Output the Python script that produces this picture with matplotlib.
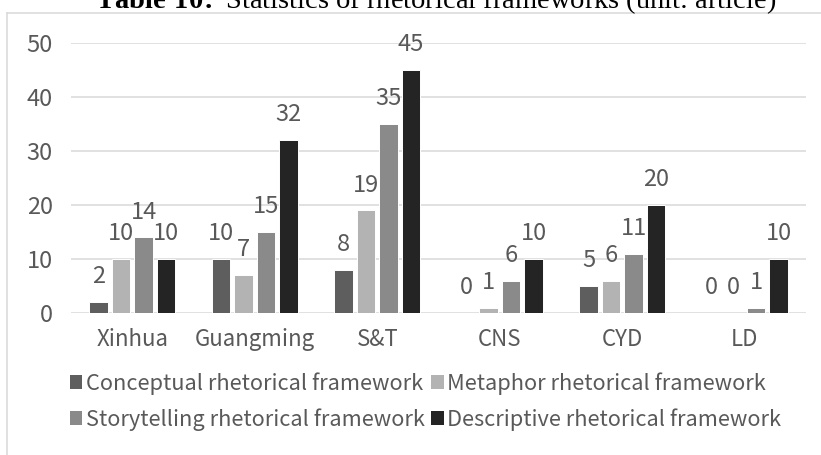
import matplotlib
matplotlib.use("Agg")
import matplotlib.pyplot as plt
import numpy as np
from matplotlib.lines import Line2D
from matplotlib.patches import Patch

plt.rcParams['font.family'] = ['Noto Sans CJK SC', 'DejaVu Sans']
plt.rcParams['mathtext.fontset'] = 'custom'
plt.rcParams['mathtext.rm'] = 'Liberation Serif'
plt.rcParams['mathtext.bf'] = 'Liberation Serif:bold'

# data
outlets = ["Xinhua", "Guangming", "S&T", "CNS", "CYD", "LD"]
series_names = ["Conceptual rhetorical framework", "Metaphor rhetorical framework",
                "Storytelling rhetorical framework", "Descriptive rhetorical framework"]
conceptual = [2, 10, 8, 0, 5, 0]
metaphor = [10, 7, 19, 1, 6, 0]
storytelling = [14, 15, 35, 6, 11, 1]
descriptive = [10, 32, 45, 10, 20, 10]
y_ticks = [0, 10, 20, 30, 40, 50]

colors = ["#5e5e5e", "#b3b3b3", "#8a8a8a", "#242424"]
txt = "#595959"
W, H = 821, 455

fig = plt.figure(figsize=(W / 100, H / 100), dpi=100)
ax = fig.add_axes([71 / W, 1 - 313 / H, 735 / W, 270 / H])

x = np.arange(len(outlets))
step = 0.184
for i, vals in enumerate([conceptual, metaphor, storytelling, descriptive]):
    ax.bar(x + (i - 1.5) * step, vals, width=0.148, color=colors[i],
           edgecolor="white", linewidth=0.7, zorder=3)
    for xi, v in zip(x, vals):
        ax.annotate(str(v), (xi + (i - 1.5) * step, v), xytext=(0, 13.5),
                    textcoords="offset points", ha="center", va="baseline",
                    fontsize=17, color=txt, annotation_clip=False)

ax.set_xlim(-0.5, len(outlets) - 0.5)
ax.set_ylim(0, 50)
ax.set_yticks(y_ticks)
ax.set_xticks(x)
ax.set_xticklabels(outlets)
ax.tick_params(axis="y", length=0, pad=13, labelsize=17, labelcolor=txt)
ax.tick_params(axis="x", length=0, pad=11, labelsize=16, labelcolor=txt)
ax.yaxis.grid(True, color="#d9d9d9", linewidth=1.1, zorder=0)
ax.set_axisbelow(True)
for s in ax.spines.values():
    s.set_visible(False)

# legend, column-first order so rows read Conceptual/Metaphor, Storytelling/Descriptive
order = [0, 2, 1, 3]
handles = [Patch(facecolor=colors[k], edgecolor="none") for k in order]
labels = [series_names[k] for k in order]
fig.legend(handles, labels, ncol=2, loc="upper left",
           bbox_to_anchor=(70 / W, 1 - 372 / H), frameon=False, borderpad=0,
           borderaxespad=0, fontsize=15.7, labelcolor=txt,
           handlelength=0.57, handleheight=0.57, handletextpad=0.15,
           columnspacing=0.3, labelspacing=0.62)

# chart border (cropped at right and bottom)
fig.add_artist(Line2D([7 / W, 1], [1 - 13 / H, 1 - 13 / H], color="#d9d9d9", linewidth=1.1))
fig.add_artist(Line2D([7 / W, 7 / W], [0, 1 - 13 / H], color="#d9d9d9", linewidth=1.1))

# title, top part cut off as in the source image
fig.text(95 / W, 1 - 8 / H,
         r"$\mathbf{Table\ 10\!:}$ Statistics of rhetorical frameworks (unit: article)",
         fontsize=20.5, family="Liberation Serif", color="black",
         va="baseline", ha="left")

fig.savefig("out.png", dpi=100)
